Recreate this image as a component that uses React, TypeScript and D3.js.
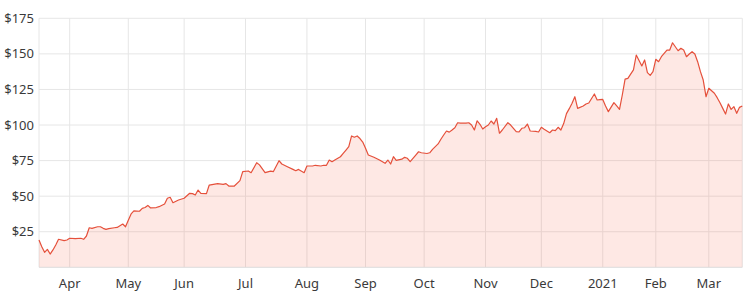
import React from "react";
import * as d3 from "d3";

const HOLIDAYS = ["2020-04-10","2020-05-25","2020-07-03","2020-09-07","2020-11-26","2020-12-25","2021-01-01","2021-01-18","2021-02-15"];
const START = "2020-03-17";
const END = "2021-03-17";

const dates = [
"2020-03-17","2020-03-18","2020-03-19","2020-03-20","2020-03-23","2020-03-24","2020-03-25","2020-03-26","2020-03-30","2020-03-31",
"2020-04-01","2020-04-03","2020-04-07","2020-04-08","2020-04-09","2020-04-13","2020-04-14","2020-04-16","2020-04-17","2020-04-20",
"2020-04-21","2020-04-22","2020-04-24","2020-04-27","2020-04-29","2020-04-30","2020-05-01","2020-05-04","2020-05-05","2020-05-07",
"2020-05-08","2020-05-11","2020-05-12","2020-05-13","2020-05-15","2020-05-18","2020-05-20","2020-05-21","2020-05-22","2020-05-26",
"2020-05-28","2020-06-01","2020-06-03","2020-06-04","2020-06-05","2020-06-08","2020-06-09","2020-06-11","2020-06-12","2020-06-16",
"2020-06-17","2020-06-19","2020-06-22","2020-06-23","2020-06-25","2020-06-29","2020-06-30","2020-07-02","2020-07-06","2020-07-08",
"2020-07-09","2020-07-13","2020-07-15","2020-07-16","2020-07-20","2020-07-21","2020-07-23","2020-07-27","2020-07-28","2020-07-29",
"2020-07-31","2020-08-03","2020-08-05","2020-08-06","2020-08-10","2020-08-11","2020-08-12","2020-08-13","2020-08-14","2020-08-17",
"2020-08-19","2020-08-20","2020-08-21","2020-08-24","2020-08-25","2020-08-26","2020-08-27","2020-08-28","2020-08-31","2020-09-01",
"2020-09-02","2020-09-04","2020-09-09","2020-09-11","2020-09-14","2020-09-15","2020-09-16","2020-09-17","2020-09-21","2020-09-22",
"2020-09-23","2020-09-24","2020-09-28","2020-09-29","2020-09-30","2020-10-02","2020-10-05","2020-10-06","2020-10-07","2020-10-08",
"2020-10-09","2020-10-12","2020-10-13","2020-10-14","2020-10-15","2020-10-16","2020-10-19","2020-10-20","2020-10-22","2020-10-23",
"2020-10-26","2020-10-27","2020-10-28","2020-10-29","2020-10-30","2020-11-02","2020-11-03","2020-11-04","2020-11-05","2020-11-06",
"2020-11-09","2020-11-10","2020-11-12","2020-11-13","2020-11-17","2020-11-18","2020-11-19","2020-11-20","2020-11-23","2020-11-24",
"2020-11-27","2020-11-30","2020-12-01","2020-12-02","2020-12-04","2020-12-07","2020-12-08","2020-12-09","2020-12-10","2020-12-11",
"2020-12-14","2020-12-15","2020-12-16","2020-12-17","2020-12-18","2020-12-22","2020-12-23","2020-12-24","2020-12-29","2020-12-30",
"2020-12-31","2021-01-04","2021-01-05","2021-01-06","2021-01-08","2021-01-11","2021-01-12","2021-01-13","2021-01-14","2021-01-15",
"2021-01-20","2021-01-21","2021-01-25","2021-01-26","2021-01-27","2021-01-28","2021-01-29","2021-02-01","2021-02-02","2021-02-03",
"2021-02-05","2021-02-08","2021-02-09","2021-02-10","2021-02-11","2021-02-12","2021-02-16","2021-02-17","2021-02-18","2021-02-19",
"2021-02-22","2021-02-23","2021-02-24","2021-02-25","2021-02-26","2021-03-01","2021-03-03","2021-03-04","2021-03-05","2021-03-08",
"2021-03-09","2021-03-10","2021-03-11","2021-03-12","2021-03-15","2021-03-16","2021-03-17"
];

const prices = [
19.2,14.5,10.5,12.6,9.3,12.2,15.7,19.7,18.7,19.2,
20.4,20.1,20.4,19.7,22,27.8,27.4,28.5,28.5,27.4,
26.7,27.2,27.8,28,30.4,28.5,33,37.5,39.6,39.4,
41.4,42,43.5,41.7,42,42.6,44.5,48.5,49.2,45.4,
47.3,48.5,52,51.8,50.8,54.3,52,51.8,57.8,58.5,
58.8,58.3,58.8,57.1,57.1,60.9,67.2,67.7,66.5,73.5,
72,66.5,67.6,67.3,74.9,72.6,70.7,68.8,67.9,68.8,
66.5,71.2,71.2,71.7,71.2,71.7,71.7,75.4,74.2,75.4,
77.7,80,82.4,84.8,92.3,91.4,92.3,90.5,88,83.6,
78.9,77.3,75.4,73.1,75.4,72.6,77.7,75.2,76,77.3,
76.6,74.2,78.9,81.2,80.5,80,80.5,82.9,84.8,86.7,
90,93,95.8,95,96.5,98.1,101.6,101.3,101.3,101.6,
100,96.5,103,100.5,97.2,98.8,100,102.8,100.7,104.7,
94.2,96.5,101.6,100,95.3,95.1,97.7,98.1,100.7,95.8,
95.5,95.1,98.4,97,94.6,96.5,96,98.4,96.5,101,
108,111.5,115.3,119.9,111.7,113.4,114.8,115.5,121.8,117.6,
117.9,118,113.4,109.4,115.7,113.4,111,121.1,132.3,132.8,
138.7,149.2,141.5,145.7,136.8,134.9,137.5,146.2,144.5,148,
152.7,152.7,157.8,155,152.2,153.9,152.7,148,149.9,151.5,
149.9,144.5,137.5,131.6,119.9,125.8,122.3,119.2,115.7,111.7,
107.7,114.8,111,112.9,108.2,112.4,113.4
];

const yTicks = [25, 50, 75, 100, 125, 150, 175];
const yTickLabels = ["$25", "$50", "$75", "$100", "$125", "$150", "$175"];
const monthLabels = ["Apr", "May", "Jun", "Jul", "Aug", "Sep", "Oct", "Nov", "Dec", "2021", "Feb", "Mar"];

function tradingDays(start: string, end: string, holidays: string[]): string[] {
  const out: string[] = [];
  const hs = new Set(holidays);
  const d = new Date(start + "T00:00:00Z");
  const e = new Date(end + "T00:00:00Z");
  while (d <= e) {
    const wd = d.getUTCDay();
    const s = d.toISOString().slice(0, 10);
    if (wd !== 0 && wd !== 6 && !hs.has(s)) out.push(s);
    d.setUTCDate(d.getUTCDate() + 1);
  }
  return out;
}

export default function App() {
  const W = 756, H = 302;
  const m = { left: 39, right: 742.3, top: 18.3, bottom: 267.3 };
  const days = tradingDays(START, END, HOLIDAYS);
  const x = d3.scalePoint<string>().domain(days).range([m.left, m.right]);
  const y = d3.scaleLinear().domain([0, 175]).range([m.bottom, m.top]);

  const monthStarts: string[] = [];
  for (let i = 1; i < days.length; i++) {
    if (days[i].slice(0, 7) !== days[i - 1].slice(0, 7)) monthStarts.push(days[i]);
  }

  const pts = dates.map((d, i) => ({ d, v: prices[i] }));
  const line = d3.line<{ d: string; v: number }>().x(p => x(p.d)!).y(p => y(p.v));
  const area = d3.area<{ d: string; v: number }>().x(p => x(p.d)!).y0(y(0)).y1(p => y(p.v));

  const font = "'Noto Sans', 'Open Sans', sans-serif";
  const grid = "#e6e6e6";

  return (
    <svg width={W} height={H} style={{ position: "absolute", left: 0, top: 0, background: "#fff" }}>
      {yTicks.map(t => (
        <line key={"gy" + t} x1={m.left} x2={m.right} y1={y(t)} y2={y(t)} stroke={grid} strokeWidth={1} />
      ))}
      {monthStarts.map(d => (
        <line key={"gx" + d} x1={x(d)} x2={x(d)} y1={m.top} y2={m.bottom} stroke={grid} strokeWidth={1} />
      ))}
      <line x1={m.left} x2={m.left} y1={m.top} y2={m.bottom} stroke={grid} />
      <line x1={m.right} x2={m.right} y1={m.top} y2={m.bottom} stroke={grid} />
      <path d={area(pts)!} fill="rgba(250,110,90,0.16)" />
      <path d={line(pts)!} fill="none" stroke="#e5503b" strokeWidth={1.2} strokeLinejoin="round" />
      <line x1={m.left} x2={m.right} y1={m.bottom} y2={m.bottom} stroke="#dcdcdc" />
      {yTicks.map((t, i) => (
        <text key={"ty" + t} x={34} y={y(t)} dy="0.35em" textAnchor="end" fontFamily={font} fontSize={13} fill="#3a3a3a">
          {yTickLabels[i]}
        </text>
      ))}
      {monthStarts.map((d, i) => (
        <text key={"tx" + d} x={x(d)} y={288} textAnchor="middle" fontFamily={font} fontSize={13} fill="#3a3a3a">
          {monthLabels[i]}
        </text>
      ))}
    </svg>
  );
}
